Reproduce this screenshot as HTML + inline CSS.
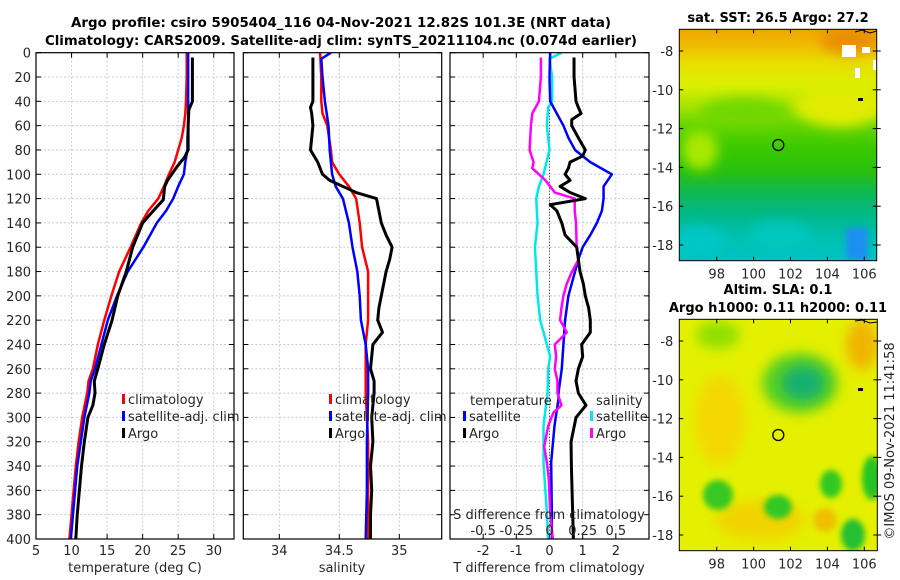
<!DOCTYPE html>
<html><head><meta charset="utf-8">
<style>
html,body{margin:0;padding:0;background:#fff;}
svg{display:block;font-family:"DejaVu Sans","Liberation Sans",sans-serif;}
.tk{font-size:13px;fill:#262626;}
.tt{font-size:13px;font-weight:bold;fill:#000;}
</style></head>
<body>
<svg id="chart" width="900" height="580" viewBox="0 0 900 580" xmlns="http://www.w3.org/2000/svg">
<defs>
<clipPath id="c1"><rect x="36" y="52.7" width="198" height="486.3"/></clipPath>
<clipPath id="c2"><rect x="243.3" y="52.7" width="198.4" height="486.3"/></clipPath>
<clipPath id="c3"><rect x="450" y="52.7" width="199" height="486.3"/></clipPath>
<clipPath id="m1"><rect x="679.3" y="29.3" width="197.4" height="231.4"/></clipPath>
<clipPath id="m2"><rect x="679.3" y="319.3" width="198" height="231.4"/></clipPath>
<filter id="bl" x="-50%" y="-50%" width="200%" height="200%"><feGaussianBlur stdDeviation="6"/></filter>
<filter id="bl2" x="-50%" y="-50%" width="200%" height="200%"><feGaussianBlur stdDeviation="3"/></filter>
<linearGradient id="sst" x1="0" y1="0" x2="0" y2="1">
<stop offset="0" stop-color="#f0a400"/><stop offset="0.07" stop-color="#f0bc00"/>
<stop offset="0.14" stop-color="#e8dc00"/><stop offset="0.24" stop-color="#dcf000"/>
<stop offset="0.33" stop-color="#a8e400"/><stop offset="0.42" stop-color="#60d400"/>
<stop offset="0.52" stop-color="#38c800"/><stop offset="0.62" stop-color="#28c010"/>
<stop offset="0.70" stop-color="#10b850"/><stop offset="0.80" stop-color="#00b888"/>
<stop offset="0.90" stop-color="#00c0b0"/><stop offset="1" stop-color="#00c4c4"/>
</linearGradient>
</defs>

<text class="tt" x="341" y="27" text-anchor="middle" textLength="540" lengthAdjust="spacingAndGlyphs">Argo profile: csiro 5905404_116 04-Nov-2021 12.82S 101.3E (NRT data)</text>
<text class="tt" x="341" y="45" text-anchor="middle" textLength="592" lengthAdjust="spacingAndGlyphs">Climatology: CARS2009. Satellite-adj clim: synTS_20211104.nc (0.074d earlier)</text>

<g id="p1"></g>
<g id="p2"></g>
<g id="p3"></g>

<!-- Map 1 SST -->
<g>
<text class="tt" x="778" y="22" text-anchor="middle">sat. SST: 26.5 Argo: 27.2</text>
<g clip-path="url(#m1)">
<rect x="679" y="29" width="198" height="232" fill="url(#sst)"/>
<ellipse cx="745" cy="112" rx="45" ry="14" fill="#70d800" filter="url(#bl)"/>
<ellipse cx="840" cy="105" rx="45" ry="22" fill="#e0ec00" filter="url(#bl)"/>
<ellipse cx="850" cy="40" rx="30" ry="14" fill="#e89000" filter="url(#bl)"/>
<ellipse cx="700" cy="150" rx="18" ry="20" fill="#a8e800" filter="url(#bl)"/>
<ellipse cx="780" cy="235" rx="30" ry="14" fill="#00c8c0" filter="url(#bl)"/>
<ellipse cx="700" cy="240" rx="25" ry="14" fill="#00c8c8" filter="url(#bl)"/>
<rect x="846" y="228" width="22" height="32" fill="#1a90f0" filter="url(#bl2)"/>
<rect x="842" y="45" width="14" height="12" fill="#ffffff"/>
<rect x="862" y="47" width="8" height="6" fill="#ffffff"/>
<rect x="855" y="68" width="5" height="10" fill="#ffffff"/>
<rect x="873" y="60" width="5" height="10" fill="#ffffff"/>
<path d="M855 32 L862 30 L870 33 L877 31" stroke="#000" fill="none" stroke-width="1"/>
<rect x="858" y="98" width="5" height="3" fill="#000"/>
</g>
<rect x="679.3" y="29.3" width="197.4" height="231.4" fill="none" stroke="#000" stroke-width="1"/>
<circle cx="778.3" cy="145" r="5.5" fill="none" stroke="#000" stroke-width="1.3"/>
<g id="m1ticks"></g>
</g>

<!-- Map 2 SLA -->
<g>
<text class="tt" x="778" y="294" text-anchor="middle">Altim. SLA: 0.1</text>
<text class="tt" x="778" y="312" text-anchor="middle">Argo h1000: 0.11 h2000: 0.11</text>
<g clip-path="url(#m2)">
<rect x="679" y="319" width="199" height="232" fill="#e4f000"/>
<ellipse cx="720" cy="420" rx="25" ry="45" fill="#f4d800" filter="url(#bl)"/>
<ellipse cx="760" cy="520" rx="45" ry="20" fill="#f0d400" filter="url(#bl)"/>
<ellipse cx="862" cy="345" rx="16" ry="25" fill="#f0b400" filter="url(#bl)"/>
<ellipse cx="825" cy="520" rx="12" ry="12" fill="#f0c000" filter="url(#bl2)"/>
<ellipse cx="800" cy="383" rx="38" ry="30" fill="#58d020" filter="url(#bl)"/>
<ellipse cx="803" cy="383" rx="22" ry="17" fill="#18b070" filter="url(#bl)"/>
<ellipse cx="718" cy="335" rx="22" ry="14" fill="#90e000" filter="url(#bl)"/>
<ellipse cx="718" cy="495" rx="15" ry="15" fill="#38c820" filter="url(#bl2)"/>
<ellipse cx="778" cy="507" rx="14" ry="12" fill="#30c820" filter="url(#bl2)"/>
<ellipse cx="831" cy="484" rx="11" ry="14" fill="#30c820" filter="url(#bl2)"/>
<ellipse cx="872" cy="478" rx="10" ry="22" fill="#28c420" filter="url(#bl2)"/>
<ellipse cx="853" cy="535" rx="12" ry="16" fill="#20c030" filter="url(#bl2)"/>
<path d="M855 321 L862 320 L870 323 L877 322" stroke="#000" fill="none" stroke-width="1"/>
<rect x="858" y="388" width="5" height="3" fill="#000"/>
</g>
<rect x="679.3" y="319.3" width="198" height="231.4" fill="none" stroke="#000" stroke-width="1"/>
<circle cx="778.3" cy="435" r="5.5" fill="none" stroke="#000" stroke-width="1.3"/>
<g id="m2ticks"></g>
</g>

<text class="tk" transform="translate(894,441) rotate(-90)" text-anchor="middle" font-size="13">©IMOS 09-Nov-2021 11:41:58</text>
</svg>

<script>
// ---------- data ----------
const depthTicks = [0,20,40,60,80,100,120,140,160,180,200,220,240,260,280,300,320,340,360,380,400];
const tempTicks = [5,10,15,20,25,30];
const salTicks = [34,34.5,35];
const tdiffTicks = [-2,-1,0,1,2];
const sdiffTicks = [-0.5,-0.25,0,0.25,0.5];
const sdiffTickLabels = ["-0.5","-0.25","0","0.25","0.5"];

const climTDepth = [0,20,40,50,60,70,80,90,100,110,120,130,140,160,180,200,220,240,260,270,280,300,320,340,360,380,400];
const climT = [26.2,26.2,26.1,26.0,25.8,25.5,25.0,24.5,23.7,23.0,22.2,20.8,19.8,18.3,16.7,15.6,14.6,13.7,13.0,12.4,12.2,11.5,11.0,10.6,10.3,10.0,9.7];
const satTDepth = [0,20,40,50,60,70,80,90,100,110,120,130,140,160,180,200,220,240,260,270,280,300,320,340,360,380,400];
const satT = [26.4,26.4,26.4,26.4,26.4,26.3,26.3,26.0,25.8,25.0,24.3,23.3,22.0,20.1,17.9,16.4,15.1,14.2,13.3,12.7,12.5,11.8,11.3,10.8,10.5,10.2,9.9];
const argoTDepth = [4,20,40,47,60,70,80,86,94,105,110,121,130,140,160,180,200,220,240,260,270,280,290,300,320,340,360,380,390,400];
const argoT = [27.0,27.0,27.0,26.5,26.4,26.4,26.4,25.9,24.8,23.5,23.1,22.9,21.5,20.0,18.6,17.7,16.5,15.7,14.6,13.7,13.2,13.3,13.0,12.3,11.8,11.4,11.1,10.8,10.7,10.6];

const climSDepth = [0,20,40,50,60,80,90,100,110,120,140,160,180,200,220,240,280,320,360,400];
const climS = [34.34,34.35,34.35,34.36,34.40,34.43,34.44,34.50,34.58,34.64,34.67,34.69,34.74,34.74,34.74,34.72,34.72,34.74,34.74,34.74];
const satSDepth = [0,5,20,40,60,80,100,110,120,140,160,180,200,220,240,260,280,320,360,400];
const satS = [34.43,34.35,34.36,34.38,34.41,34.42,34.44,34.47,34.53,34.58,34.61,34.65,34.67,34.68,34.72,34.74,34.74,34.73,34.73,34.72];
const argoSDepth = [4,20,40,45,50,60,80,90,100,105,110,115,120,130,140,150,160,170,180,200,210,220,230,240,260,270,280,300,320,340,360,380,400];
const argoS = [34.28,34.28,34.28,34.26,34.27,34.28,34.26,34.32,34.36,34.42,34.53,34.64,34.81,34.83,34.85,34.89,34.94,34.92,34.89,34.85,34.83,34.82,34.86,34.78,34.76,34.79,34.79,34.77,34.78,34.76,34.77,34.76,34.76];

const satTdDepth = [0,20,40,45,55,60,70,80,90,100,110,120,130,140,150,160,170,180,190,200,220,240,260,280,285,307,337,378,400];
const satTd = [0.02,0,0.02,0.12,0.32,0.42,0.57,0.77,1.23,1.88,1.63,1.63,1.58,1.43,1.23,1.0,0.87,0.77,0.67,0.57,0.47,0.42,0.37,0.27,0.27,0.15,0.05,0.07,0.07];
const argoTdDepth = [4,20,40,45,50,55,60,70,80,85,90,95,100,105,110,115,120,125,130,140,150,160,170,180,190,200,210,220,230,240,250,260,270,280,290,300,320,340,360,380,400];
const argoTd = [0.74,0.74,0.8,0.87,0.95,0.67,0.67,0.87,1.08,1.0,0.62,0.57,0.47,0.62,0.32,0.62,1.08,0.02,0.22,0.37,0.47,0.82,0.87,0.92,1.02,1.08,1.18,1.23,1.23,0.97,1.0,0.87,0.8,0.87,1.1,0.8,0.65,0.66,0.68,0.7,0.72];
const satSdDepth = [0,5,20,40,45,60,80,100,110,120,140,160,180,200,220,240,250,260,280,307,337,378,400];
const satSd = [0.09,0,0.02,0.02,-0.01,-0.02,0,-0.045,-0.08,-0.1,-0.09,-0.11,-0.1,-0.09,-0.07,-0.02,0.005,-0.01,-0.015,-0.045,-0.045,-0.02,-0.01];
const argoSdDepth = [4,20,40,50,60,70,80,90,95,100,105,110,115,120,130,140,160,170,180,190,200,210,220,230,240,250,260,270,280,290,296,307,324,337,351,378,400];
const argoSd = [-0.065,-0.065,-0.08,-0.13,-0.14,-0.145,-0.15,-0.12,-0.13,-0.08,-0.03,0.005,0.04,0.19,0.19,0.2,0.205,0.22,0.17,0.13,0.105,0.09,0.08,0.13,0.04,0.05,0.04,0.06,0.06,0.09,0.03,-0.01,-0.04,-0.02,-0.005,0.005,0.025];

const mapLonTicks = [98,100,102,104,106];
const mapLatTicks = [-8,-10,-12,-14,-16,-18];

// ---------- helpers ----------
const NS = "http://www.w3.org/2000/svg";
function mk(tag, attrs, parent){const e=document.createElementNS(NS,tag);for(const k in attrs)e.setAttribute(k,attrs[k]);parent.appendChild(e);return e;}
const Y0=52.7, Y1=539;
function yD(d){return Y0+(d/400)*(Y1-Y0);}
function lin(d0,d1,r0,r1){return v=>r0+(v-d0)/(d1-d0)*(r1-r0);}

function panel(g, x0, x1, xs, xticks, xlabels, yLabels){
  for(const t of xticks){const x=xs(t);
    const l=mk('line',{x1:x,x2:x,y1:Y0,y2:Y1,stroke:'#c4cce4','stroke-width':1,'stroke-dasharray':'2,2'},g);
    }
  for(const d of depthTicks){const y=yD(d);
    const l=mk('line',{x1:x0,x2:x1,y1:y,y2:y,stroke:'#c4cce4','stroke-width':1,'stroke-dasharray':'2,2'},g);
    
    const t1=mk('line',{x1:x0,x2:x0+5,y1:y,y2:y,stroke:'#000'},g);
    
    const t2=mk('line',{x1:x1-5,x2:x1,y1:y,y2:y,stroke:'#000'},g);
    
    if(yLabels){const tx=mk('text',{x:x0-5,y:y+5,'text-anchor':'end',class:'tk'},g);tx.textContent=String(d);
      }
  }
  xticks.forEach((t,i)=>{const x=xs(t);
    const a=mk('line',{x1:x,x2:x,y1:Y1,y2:Y1-5,stroke:'#000'},g);
    
    const b=mk('line',{x1:x,x2:x,y1:Y0,y2:Y0+5,stroke:'#000'},g);
    
    const tx=mk('text',{x:x,y:555,'text-anchor':'middle',class:'tk'},g);tx.textContent=xlabels[i];
    
  });
}
function series(g, xs, depths, vals, color, w, name, clip){
  let d='';depths.forEach((dd,i)=>{d+=(i?'L':'M')+xs(vals[i]).toFixed(2)+' '+yD(dd).toFixed(2);});
  const p=mk('path',{d:d,fill:'none',stroke:color,'stroke-width':w,'stroke-linejoin':'round','clip-path':clip},g);
  
}
function frame(g,x0,x1){const r=mk('rect',{x:x0,y:Y0,width:x1-x0,height:Y1-Y0,fill:'none',stroke:'#000','stroke-width':1.2},g);
  }
function legendItem(g,x,y,color,label,w){
  const r=mk('rect',{x:x,y:y-10,width:w||3,height:10,fill:color},g);
  
  const t=mk('text',{x:x+6,y:y,class:'tk'},g);t.textContent=label;
  
}
function label(g,x,y,txt,name){const t=mk('text',{x:x,y:y,'text-anchor':'middle',class:'tk'},g);t.textContent=txt;
  return t;}

// ---------- panel 1 ----------
const g1=document.getElementById('p1');
const xT=lin(5,32.85,36,234);
panel(g1,36,234,xT,tempTicks,tempTicks.map(String),true);
series(g1,xT,climTDepth,climT,'#ff0000',2.5,'climatology-temperature-line','url(#c1)');
series(g1,xT,satTDepth,satT,'#0000ff',2.5,'satellite-temperature-line','url(#c1)');
series(g1,xT,argoTDepth,argoT,'#000000',3,'argo-temperature-line','url(#c1)');
frame(g1,36,234);
legendItem(g1,122,404,'#ff0000','climatology');
legendItem(g1,122,421,'#0000ff','satellite-adj. clim');
legendItem(g1,122,438,'#000000','Argo');
label(g1,135,572,'temperature (deg C)','x-axis-title-temperature');

// ---------- panel 2 ----------
const g2=document.getElementById('p2');
const xS=lin(34,35,279.3,399.3);
panel(g2,243.3,441.7,xS,salTicks,["34","34.5","35"],false);
series(g2,xS,climSDepth,climS,'#ff0000',2.5,'climatology-salinity-line','url(#c2)');
series(g2,xS,satSDepth,satS,'#0000ff',2.5,'satellite-salinity-line','url(#c2)');
series(g2,xS,argoSDepth,argoS,'#000000',3,'argo-salinity-line','url(#c2)');
frame(g2,243.3,441.7);
legendItem(g2,329,404,'#ff0000','climatology');
legendItem(g2,329,421,'#0000ff','satellite-adj. clim');
legendItem(g2,329,438,'#000000','Argo');
label(g2,342,572,'salinity','x-axis-title-salinity');

// ---------- panel 3 ----------
const g3=document.getElementById('p3');
const xTd=lin(-3,3,450,649);
const xSd=v=>xTd(v*4);
panel(g3,450,649,xTd,tdiffTicks,tdiffTicks.map(String),false);
const zl=mk('line',{x1:xTd(0),x2:xTd(0),y1:Y0,y2:Y1,stroke:'#333','stroke-width':1,'stroke-dasharray':'1,2'},g3);

series(g3,xSd,satSdDepth,satSd,'#00e8e8',2.5,'satellite-salinity-diff-line','url(#c3)');
series(g3,xTd,satTdDepth,satTd,'#0000ff',2.5,'satellite-temperature-diff-line','url(#c3)');
series(g3,xSd,argoSdDepth,argoSd,'#ff00ff',2.5,'argo-salinity-diff-line','url(#c3)');
series(g3,xTd,argoTdDepth,argoTd,'#000000',3,'argo-temperature-diff-line','url(#c3)');
frame(g3,450,649);
label(g3,470,405,'temperature','legend-title-temperature').setAttribute('text-anchor','start');
legendItem(g3,463,421,'#0000ff','satellite');
legendItem(g3,463,438,'#000000','Argo');
label(g3,596,405,'salinity','legend-title-salinity').setAttribute('text-anchor','start');
legendItem(g3,590,421,'#00e8e8','satellite');
legendItem(g3,590,438,'#ff00ff','Argo');
label(g3,549,519,'S difference from climatology','s-axis-title');
sdiffTicks.forEach((t,i)=>{label(g3,xSd(t),535,sdiffTickLabels[i],'s-tick-label');});
label(g3,549,572,'T difference from climatology','x-axis-title-tdiff');

// ---------- map ticks ----------
function mapTicks(gid, x0,x1,y0,y1, latTop){
  const g=document.getElementById(gid);
  const xl=lin(98,106,716.7,864.3);
  const yl=lin(-8,-18,latTop,latTop+194);
  for(const lo of mapLonTicks){const x=xl(lo);
    const a=mk('line',{x1:x,x2:x,y1:y1,y2:y1-4,stroke:'#000'},g);
    const b=mk('line',{x1:x,x2:x,y1:y0,y2:y0+4,stroke:'#000'},g);
    const t=mk('text',{x:x,y:y1+18,'text-anchor':'middle',class:'tk'},g);t.textContent=String(lo);
    }
  for(const la of mapLatTicks){const y=yl(la);
    const a=mk('line',{x1:x0,x2:x0+4,y1:y,y2:y,stroke:'#000'},g);
    const b=mk('line',{x1:x1-4,x2:x1+4,y1:y,y2:y,stroke:'#000'},g);
    const t=mk('text',{x:x0-6,y:y+5,'text-anchor':'end',class:'tk'},g);t.textContent=String(la);
    }
}
mapTicks('m1ticks',679.3,876.7,29.3,260.7,51);
mapTicks('m2ticks',679.3,877.3,319.3,550.7,341);
</script>
</body></html>
